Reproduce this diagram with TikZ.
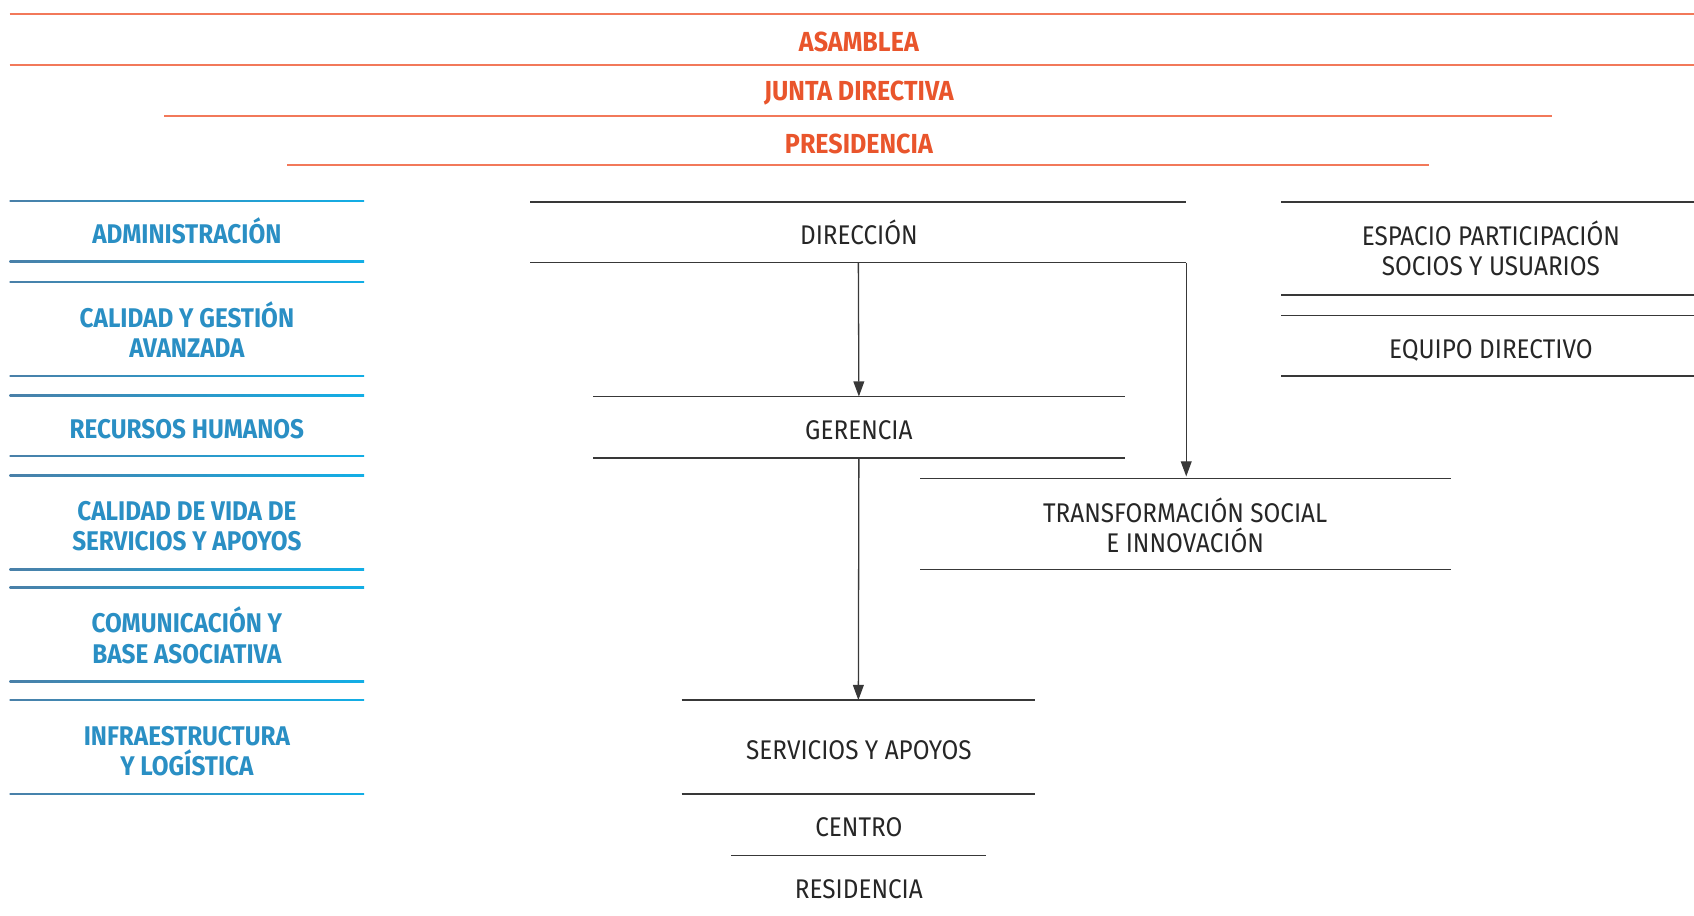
\documentclass[tikz,border=0pt]{standalone}
\usepackage{fontspec}
\usetikzlibrary{arrows.meta}
\newfontfamily\orfont[FakeStretch=0.91]{Fira Sans}
\newfontfamily\blfont[FakeStretch=0.90]{Fira Sans}
\newfontfamily\bkfont[FakeStretch=0.90]{Fira Sans}
\definecolor{ortext}{HTML}{E9552C}
\definecolor{orline}{HTML}{F2795A}
\definecolor{bltext}{HTML}{2A8FC4}
\definecolor{blleft}{HTML}{4A80A8}
\definecolor{blright}{HTML}{12AEE6}
\definecolor{bktext}{HTML}{262626}
\definecolor{bkline}{HTML}{383838}
\tikzset{
  band/.style={inner sep=0pt, outer sep=0pt, minimum width=#1},
  ortxt/.style={inner sep=0pt, text=ortext, font=\orfont\bfseries\fontsize{25.5}{28}\selectfont},
  bltxt/.style={inner sep=0pt, text=bltext, align=center, font=\blfont\bfseries\fontsize{25}{28}\selectfont},
  bktxt/.style={inner sep=0pt, text=bktext, align=center, font=\bkfont\fontsize{25}{28}\selectfont},
  orln/.style={draw=orline, line width=1.8pt},
  bkln/.style={draw=bkline, line width=1.4pt},
  arr/.style={draw=bkline, line width=1.2pt, -{Triangle[length=14pt,width=10pt]}},
}
\begin{document}
\begin{tikzpicture}[x=1pt,y=-1pt]
\useasboundingbox (0,0) rectangle (1568,847);
% ---- orange header bands
\node[band=1559, minimum height=47] (asaband) at (788.5,36.5) {};
\node[band=1285, minimum height=47] (juntaband) at (794.5,83.5) {};
\node[band=1057, minimum height=46] (presband) at (794.5,130) {};
\draw[orln] (asaband.north west) -- (asaband.north east);
\draw[orln] (asaband.south west) -- (asaband.south east);
\draw[orln] (juntaband.south west) -- (juntaband.south east);
\draw[orln] (presband.south west) -- (presband.south east);
\node[ortxt] (asa) at (795,39) {ASAMBLEA};
\node[ortxt] (junta) at (795,86) {JUNTA DIRECTIVA};
\node[ortxt] (pres) at (795,133) {PRESIDENCIA};
% ---- blue column
\node[band=328, minimum height=56] (admband) at (173,214) {};
\node[band=328, minimum height=87] (calband) at (173,304.5) {};
\node[band=328, minimum height=56] (rrhhband) at (173,394) {};
\node[band=328, minimum height=87] (cvband) at (173,483.5) {};
\node[band=328, minimum height=87] (comband) at (173,587.5) {};
\node[band=328, minimum height=87] (infband) at (173,691.5) {};
\foreach \b in {admband,calband,rrhhband,cvband,comband,infband}{
  \shade[left color=blleft, right color=blright]
    ([yshift=0.75pt]\b.north west) rectangle ([yshift=-0.75pt]\b.north east);
  \shade[left color=blleft, right color=blright]
    ([yshift=0.75pt]\b.south west) rectangle ([yshift=-0.75pt]\b.south east);
}
\node[bltxt] (adm) at (173,214) {ADMINISTRACIÓN};
\node[bltxt] (cal) at (173,305) {CALIDAD Y GESTIÓN\\AVANZADA};
\node[bltxt] (rrhh) at (173,397) {RECURSOS HUMANOS};
\node[bltxt] (cv) at (173,487) {CALIDAD DE VIDA DE\\SERVICIOS Y APOYOS};
\node[bltxt] (com) at (173,588) {COMUNICACIÓN Y\\BASE ASOCIATIVA};
\node[bltxt] (inf) at (173,695) {INFRAESTRUCTURA\\Y LOGÍSTICA};
% ---- black structure
\node[band=607, minimum height=56] (dirband) at (794.5,215) {};
\node[band=492, minimum height=57] (gerband) at (795,395.5) {};
\node[band=491, minimum height=84] (tsiband) at (1097.5,485) {};
\node[band=327, minimum height=87] (servband) at (794.5,691.5) {};
\node[band=236, minimum height=57] (cenband) at (795,763.5) {};
\node[band=382, minimum height=86] (espband) at (1377,230) {};
\node[band=382, minimum height=56] (eqband) at (1377,320) {};
\foreach \b in {dirband,gerband,tsiband,servband,espband,eqband}{
  \draw[bkln] (\b.north west) -- (\b.north east);
  \draw[bkln] (\b.south west) -- (\b.south east);
}
\draw[bkln] (cenband.south west) -- (cenband.south east);
\node[bktxt] (dir) at (795,215) {DIRECCIÓN};
\node[bktxt] (ger) at (795,398) {GERENCIA};
\node[bktxt] (tsi) at (1097,486) {TRANSFORMACIÓN SOCIAL\\E INNOVACIÓN};
\node[bktxt] (serv) at (795,694) {SERVICIOS Y APOYOS};
\node[bktxt] (cen) at (795,766) {CENTRO};
\node[bktxt] (res) at (795,823) {RESIDENCIA};
\node[bktxt] (esp) at (1380,230) {ESPACIO PARTICIPACIÓN\\SOCIOS Y USUARIOS};
\node[bktxt] (eq) at (1380,324) {EQUIPO DIRECTIVO};
% ---- connectors
\draw[arr] (dirband.south) -- (gerband.north);
\draw[arr, shorten >=2pt] (dirband.south east) -- (dirband.south east |- tsiband.north);
\draw[arr] (gerband.south) -- (servband.north);
\end{tikzpicture}
\end{document}
